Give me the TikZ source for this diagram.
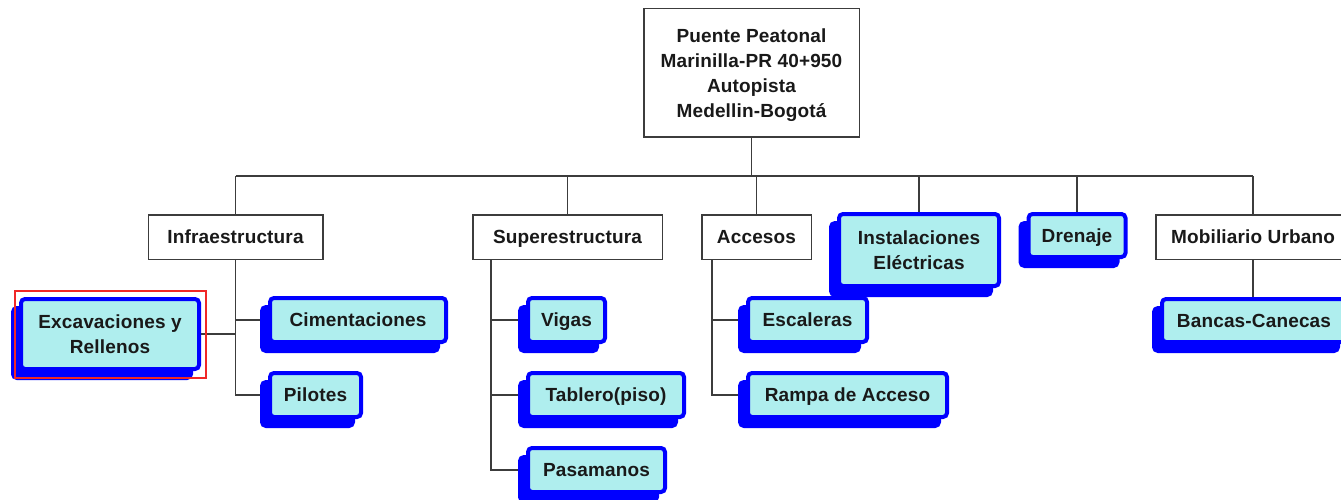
\documentclass[tikz,border=0pt]{standalone}
\usepackage{fontspec}
\setmainfont{Liberation Sans}[LetterSpace=0.8]
\usetikzlibrary{shadows}
\pgfdeclarelayer{background}
\pgfsetlayers{background,main}
\definecolor{pale}{RGB}{175,238,238}
\definecolor{edge}{RGB}{60,60,60}
\definecolor{selred}{RGB}{240,40,40}
\begin{document}
\begin{tikzpicture}[x=1pt,y=-1pt,
  every node/.style={font=\bfseries\fontsize{19}{25}\selectfont, align=center, inner sep=0pt, text=black!90},
  oneline/.style={text height=13.6pt, text depth=0pt},
  plainbox/.style={draw=edge, line width=1.5pt, fill=white},
  tealbox/.style={draw=blue, line width=4pt, fill=pale, rounded corners=4pt,
    general shadow={fill=blue, draw=blue, line width=4pt, shadow xshift=-8pt, shadow yshift=-9pt}},
  link/.style={draw=edge, line width=1.5pt}]
\useasboundingbox (0,0) rectangle (1341,500);
\clip (0,0) rectangle (1341,500);

% root and first level
\node[plainbox, minimum width=215.5pt, minimum height=128.5pt, text depth=0pt] (root) at (751.5,73)
  {Puente Peatonal\\Marinilla-PR 40+950\\Autopista\\Medellin-Bogotá};
\node[plainbox, oneline, minimum width=174.5pt, minimum height=44.5pt] (infra) at (235.5,237) {Infraestructura};
\node[plainbox, oneline, minimum width=189.5pt, minimum height=44.5pt] (super) at (567.5,237) {Superestructura};
\node[plainbox, oneline, minimum width=109.5pt, minimum height=44.5pt] (acc) at (756.5,237) {Accesos};
\node[tealbox, minimum width=160pt, minimum height=72pt] (ins) at (919,250) {Instalaciones\\Eléctricas};
\node[tealbox, oneline, minimum width=97pt, minimum height=43pt] (dre) at (1077,235.5) {Drenaje};
\node[plainbox, oneline, minimum width=194.5pt, minimum height=44.5pt] (mob) at (1253,237) {Mobiliario Urbano};

% second level
\node[tealbox, minimum width=178pt, minimum height=70pt] (exc) at (110,334) {Excavaciones y\\Rellenos};
\node[tealbox, oneline, minimum width=176pt, minimum height=44pt] (cim) at (358,320) {Cimentaciones};
\node[tealbox, oneline, minimum width=91pt, minimum height=44pt] (pil) at (315.5,395) {Pilotes};
\node[tealbox, oneline, minimum width=77pt, minimum height=44pt] (vig) at (566.5,320) {Vigas};
\node[tealbox, oneline, minimum width=156pt, minimum height=44pt] (tab) at (606,395) {Tablero(piso)};
\node[tealbox, oneline, minimum width=137pt, minimum height=44pt] (pas) at (596.5,470) {Pasamanos};
\node[tealbox, oneline, minimum width=119pt, minimum height=44pt] (esc) at (807.5,320) {Escaleras};
\node[tealbox, oneline, minimum width=199pt, minimum height=44pt] (ram) at (847.5,395) {Rampa de Acceso};
\node[tealbox, oneline, minimum width=184pt, minimum height=43pt] (ban) at (1254,320.5) {Bancas-Canecas};

\begin{pgfonlayer}{background}
% bus
\coordinate (bus) at (751.5,176);
\coordinate (busL) at (235.5,176);
\coordinate (busR) at (1253,176);
\draw[link] (root.south) -- (bus);
\draw[link] (busL) -- (busR);
\foreach \n in {infra,super,acc,ins,dre,mob}
  \draw[link] (\n.north |- bus) -- (\n.north);

% Infraestructura branches
\draw[link] (infra.south) |- (pil.west);
\draw[link] (infra.south |- cim.west) -- (cim.west);
\draw[link] (infra.south |- exc.east) -- (exc.east);

% Superestructura branches
\coordinate (sv) at (491,259.25);
\draw[link] (sv) |- (pas.west);
\draw[link] (sv |- vig.west) -- (vig.west);
\draw[link] (sv |- tab.west) -- (tab.west);

% Accesos branches
\coordinate (av) at (712,259.25);
\draw[link] (av) |- (ram.west);
\draw[link] (av |- esc.west) -- (esc.west);

% Mobiliario branch
\draw[link] (mob.south) -- (mob.south |- ban.north);
\end{pgfonlayer}

% selection frame
\draw[selred, line width=1.3pt] (15,291) rectangle (206,378);
\end{tikzpicture}
\end{document}
